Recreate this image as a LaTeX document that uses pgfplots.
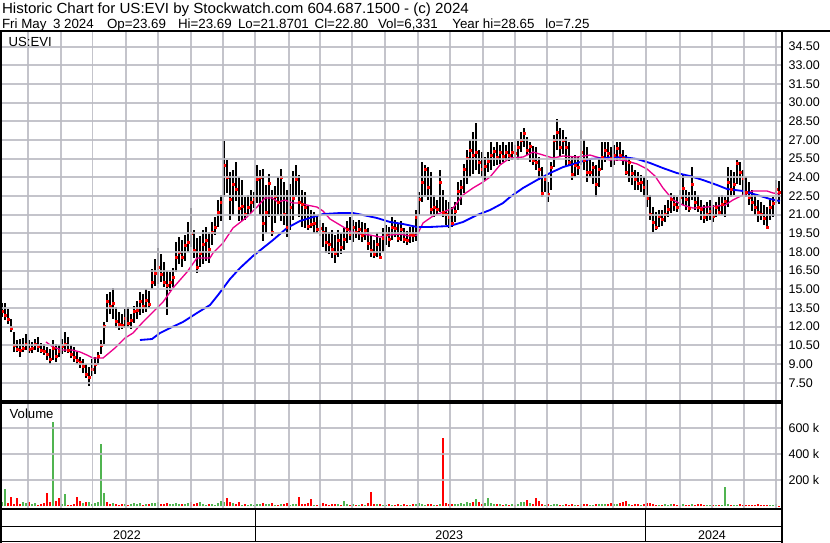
\documentclass[border=0pt]{standalone}
\usepackage{pgfplots}
\pgfplotsset{compat=1.18}
\usepackage{pgfplotstable}
\usepackage{graphicx}
\usepackage{fontspec}
\setmainfont{Liberation Sans}

\definecolor{volgreen}{RGB}{80,180,80}
\definecolor{gridgray}{RGB}{186,186,194}

% one bar every third pixel column: low, high, close, volume (k), up flag
\pgfplotstableread{
l h c v u
12.8 13.9 13.2 30 1
12.5 13.9 12.9 133 1
12.2 13.4 12.6 25 0
11.6 12.6 11.9 72 0
10.0 11.6 10.5 20 0
10.0 10.9 10.2 65 0
9.6 11.0 10.1 18 0
10.0 11.1 10.3 30 1
10.1 11.4 10.6 22 1
9.9 10.9 10.2 35 0
9.9 10.8 10.3 15 1
10.1 11.0 10.6 25 1
10.0 11.2 10.4 12 0
9.9 10.7 10.1 20 0
9.7 10.6 10.0 28 0
9.3 10.4 9.8 102 0
9.0 10.2 9.4 30 0
9.3 10.9 10.3 648 1
9.2 10.6 9.6 40 0
9.6 10.5 10.0 66 0
9.8 11.0 10.4 15 1
10.0 11.6 10.6 95 1
9.9 11.2 10.1 10 0
9.5 10.5 9.8 12 0
9.2 10.4 9.5 20 0
9.0 10.0 9.3 74 0
8.7 9.6 9.1 40 0
8.3 9.4 8.8 25 1
7.9 9.0 8.2 30 0
7.25 8.8 7.9 35 1
8.0 9.4 8.6 20 1
8.2 9.6 9.0 28 1
8.9 10.0 9.6 35 1
9.8 10.9 10.5 479 1
10.6 12.4 12.0 105 1
12.4 14.6 14.0 35 0
13.0 14.8 13.6 20 0
12.6 15.1 13.9 25 1
11.9 13.6 12.4 18 0
11.7 13.2 12.2 12 0
11.8 13.0 12.1 15 0
11.9 13.4 12.7 20 1
12.0 13.6 12.3 10 0
11.8 13.0 12.5 18 1
12.3 13.7 13.2 22 1
12.6 14.1 13.3 15 1
12.9 14.8 14.0 25 1
13.1 14.6 13.6 12 0
13.2 15.0 14.1 20 1
13.5 14.9 13.8 14 0
15.0 16.6 15.6 28 1
15.3 17.4 16.3 22 1
15.4 18.3 16.8 30 1
15.6 17.8 16.2 18 0
15.2 17.2 15.6 20 0
12.9 16.5 15.3 25 0
14.9 16.4 15.6 14 1
15.2 16.7 16.0 18 1
16.4 18.8 17.6 22 1
17.0 19.2 18.0 16 1
16.8 19.0 17.6 20 0
17.3 19.4 18.5 15 1
18.0 20.4 18.8 25 1
18.4 21.5 19.5 35 0
17.5 19.8 18.1 18 0
16.3 19.1 16.8 22 0
16.8 19.3 17.9 30 1
17.0 19.8 18.6 15 1
17.3 20.0 18.9 12 1
17.1 19.6 18.2 20 0
18.6 20.4 19.6 15 1
19.4 20.8 20.0 12 1
20.0 22.2 21.2 25 1
20.5 22.6 22.0 40 1
22.4 26.9 25.0 30 1
22.7 25.4 24.0 63 0
20.6 24.4 22.2 35 0
21.0 24.6 23.4 28 1
22.1 25.2 23.0 20 0
20.5 24.0 21.5 30 0
20.5 23.8 21.7 12 1
20.6 22.4 21.0 15 0
20.9 22.6 21.6 10 1
21.1 23.0 22.0 18 1
21.5 22.8 22.2 8 1
21.9 25.0 23.8 15 1
21.0 24.6 24.0 20 1
18.9 24.7 20.3 25 0
19.5 23.4 21.2 14 1
20.8 24.3 23.5 18 1
19.3 23.0 19.6 22 0
20.3 23.3 22.5 12 1
21.0 24.0 22.0 10 0
20.5 24.7 24.0 15 1
20.2 23.6 21.0 20 0
19.2 23.0 20.0 25 0
19.8 23.5 21.6 12 1
20.6 24.5 22.3 15 1
22.4 25.0 23.8 18 1
20.8 24.2 22.0 74 0
20.0 23.0 21.8 20 0
19.9 22.8 21.6 15 0
19.8 21.8 20.1 22 0
19.9 21.4 20.2 55 0
19.5 21.2 20.3 12 1
19.5 20.9 19.8 10 0
19.3 20.6 19.9 14 1
18.4 20.3 19.6 25 0
17.9 20.0 18.8 18 0
17.8 19.6 18.6 12 0
17.5 19.8 18.2 15 0
17.1 19.4 17.9 20 0
17.6 19.8 18.9 14 1
17.8 19.5 18.4 10 0
18.2 19.9 19.0 40 1
18.7 20.5 19.8 18 1
19.0 20.8 19.4 12 0
18.8 20.6 20.0 15 1
19.1 20.4 19.6 10 0
19.0 20.6 19.8 12 1
18.8 20.4 19.3 14 0
19.0 20.3 19.7 10 1
18.2 19.9 18.7 22 0
17.6 19.3 18.1 112 0
17.5 19.0 17.8 20 0
17.6 19.5 18.6 15 1
17.4 19.1 17.6 18 0
18.0 19.9 19.1 12 1
18.6 20.2 19.4 10 1
18.4 20.0 19.0 14 0
19.0 20.8 20.0 12 1
19.2 20.6 19.9 8 0
18.8 20.3 19.1 14 0
18.9 20.5 19.8 10 1
18.7 19.9 19.0 15 0
18.6 19.7 18.9 12 0
18.7 20.0 19.4 10 1
18.8 20.1 19.3 15 0
18.9 21.4 20.8 20 1
21.0 22.8 22.2 25 1
22.0 25.2 23.6 15 1
22.4 25.0 24.6 12 1
22.2 24.8 23.2 20 0
21.0 24.4 21.4 14 0
20.8 22.6 21.6 10 1
21.0 22.2 21.4 12 0
21.2 24.6 23.6 15 1
20.8 23.0 21.2 528 0
20.2 22.2 21.0 25 0
19.9 22.0 20.8 20 0
20.0 21.6 20.3 15 0
20.4 22.0 21.3 18 1
21.4 23.6 22.9 20 1
21.8 23.8 23.2 25 1
22.7 25.1 24.6 18 1
23.5 26.2 25.5 30 1
24.0 27.0 26.2 22 1
24.3 27.6 25.8 35 0
24.6 28.4 26.0 56 1
24.3 26.2 25.2 30 0
24.0 26.0 24.6 20 0
23.8 25.6 24.9 25 1
24.4 26.0 25.3 66 1
24.6 26.8 25.8 25 1
24.9 26.4 26.1 20 1
25.0 26.8 25.6 15 0
25.1 26.6 26.0 18 1
25.2 26.8 25.7 12 0
25.4 26.6 26.0 15 1
25.3 26.8 25.8 10 0
25.4 26.8 26.0 14 1
25.6 26.6 25.9 12 0
25.4 26.9 26.4 18 1
26.0 27.6 27.0 35 1
26.4 28.0 27.5 30 1
25.8 27.2 26.2 50 0
25.2 26.8 26.5 25 1
25.0 26.5 25.4 20 0
24.6 26.4 25.2 63 0
23.8 25.6 24.6 40 0
22.4 24.8 22.7 15 0
22.8 24.2 23.8 12 1
22.0 23.6 22.6 14 0
23.0 25.2 24.8 10 1
24.8 27.4 27.0 18 1
26.2 28.65 27.6 15 1
25.6 28.0 26.4 12 0
25.9 27.8 27.0 10 1
24.8 27.2 26.4 14 0
24.9 26.8 25.2 12 0
23.8 25.6 24.2 15 0
24.0 25.8 25.0 10 1
24.2 25.6 24.8 12 0
25.0 27.8 26.0 20 1
24.6 27.0 25.4 14 0
23.6 26.4 24.4 18 0
24.0 25.4 24.4 10 1
23.5 25.2 24.8 12 1
22.4 25.0 23.4 20 0
23.2 25.6 24.6 15 1
24.6 26.8 25.6 18 1
25.2 26.8 26.2 20 1
25.4 26.8 25.9 15 0
24.8 26.4 25.5 22 0
25.0 26.6 25.8 18 1
25.3 26.8 26.3 15 1
25.4 26.8 25.8 25 0
25.0 26.2 25.5 30 0
24.2 25.8 24.4 41 0
23.6 25.6 25.2 15 1
23.4 25.0 24.3 12 0
23.0 24.6 23.8 20 0
23.0 24.4 23.5 15 0
22.8 24.2 23.6 12 1
22.4 24.0 23.2 18 0
21.6 23.8 22.3 25 0
20.6 22.6 21.0 22 0
19.6 21.6 20.4 15 0
19.8 21.2 20.0 12 0
20.0 21.4 20.9 10 1
20.1 21.4 20.6 12 0
20.4 21.8 21.0 15 1
20.8 22.2 21.4 10 1
21.1 22.7 22.2 14 1
21.3 22.6 21.8 18 0
21.2 22.4 21.6 12 0
21.6 23.0 22.4 10 1
21.8 24.2 23.1 15 1
21.4 23.0 22.2 12 0
21.2 22.8 21.5 10 0
22.2 24.8 23.4 14 1
21.4 22.9 22.0 12 0
21.2 22.6 21.6 15 0
20.6 22.2 21.4 18 0
20.3 21.8 20.8 10 0
20.5 22.0 21.0 12 1
20.6 22.2 21.3 8 1
20.4 21.8 20.9 10 0
20.8 22.0 21.6 12 1
21.0 22.4 21.2 8 0
21.0 22.6 21.8 10 1
20.8 22.4 22.1 148 1
21.6 24.8 23.6 15 1
22.4 24.6 23.0 12 0
22.6 24.4 23.4 10 1
23.5 25.4 25.1 12 1
23.4 25.2 24.4 14 0
22.6 24.6 23.9 10 0
22.4 24.0 22.8 12 0
21.8 23.6 22.4 8 0
21.3 23.0 22.0 10 0
21.0 22.6 21.6 12 0
20.4 22.2 21.2 14 0
20.6 22.0 21.0 10 0
20.2 21.8 20.7 12 0
19.9 21.6 20.0 8 0
20.6 22.2 21.6 10 1
20.8 22.4 21.9 12 1
21.9 23.8 23.0 14 1
21.87 23.69 22.80 6 0
}\evi

% 50-day average (magenta)
\pgfplotstableread{
x m
46 10.77
53 10.37
62 10.13
72 10.13
80 9.97
87 9.72
93 9.48
103 9.48
115 10.29
125 11.09
133 11.49
143 12.38
153 13.18
163 13.98
173 15.11
187 16.39
197 17.52
210 17.52
213 17.92
223 18.72
233 19.93
247 20.81
257 21.61
265 22.34
272 22.34
278 22.01
285 22.17
293 21.93
300 21.93
307 21.77
317 21.61
323 21.29
330 20.65
340 20.17
350 19.68
360 19.44
370 19.36
380 19.20
390 19.36
400 19.44
410 19.28
417 19.36
423 20.33
433 20.89
443 21.21
453 21.53
463 22.58
473 23.14
483 23.62
490 24.02
500 24.99
510 25.55
523 25.63
533 26.03
543 25.79
553 25.55
563 25.71
577 25.63
590 25.79
600 25.55
610 25.39
620 25.39
627 25.31
637 25.07
647 24.67
655 24.10
663 23.14
673 22.18
683 21.77
693 21.53
707 21.61
717 21.69
725 21.77
733 22.18
743 22.58
753 22.90
767 22.90
773 22.74
780 22.66
}\maFifty

% 200-day average (blue)
\pgfplotstableread{
x m
140 10.93
152 11.01
160 11.49
170 11.89
183 12.38
197 13.10
210 13.74
218 14.54
230 15.83
240 16.71
253 17.68
263 18.32
273 18.96
287 19.93
300 20.49
313 20.81
323 21.05
340 21.13
353 21.13
363 20.97
377 20.73
390 20.41
403 20.25
417 20.01
430 20.01
450 20.09
463 20.41
477 20.97
490 21.37
503 21.93
510 22.41
523 23.14
537 23.78
550 24.34
563 24.82
577 25.15
590 25.47
610 25.59
623 25.63
637 25.47
650 25.15
663 24.74
677 24.34
690 24.10
703 23.78
717 23.38
727 23.06
743 22.90
757 22.58
770 22.26
780 22.09
}\maTwoHundred

\begin{document}
\begin{tikzpicture}
\path[use as bounding box] (0pt,0pt) rectangle (498pt,-325.8pt);

\pgfplotsset{
  chartpanel/.style={
    scale only axis, anchor=south west,
    xmin=2, xmax=781, width=467.4pt,
    axis line style={draw=none},
    major tick length=0pt, minor tick length=0pt,
    xtick=\empty,
    yticklabel pos=right,
    yticklabel style={anchor=west, xshift=1pt, font=\fontsize{7.5}{9}\selectfont},
  },
}

\begin{axis}[chartpanel, at={(1.2pt,-240.3pt)}, height=221.1pt,
  ymin=6.07, ymax=35.673,
  ytick={7.5,9,10.5,12,13.5,15,16.5,18,19.5,21,22.5,24,25.5,27,28.5,30,31.5,33,34.5},
  yticklabels={7.50,9.00,10.50,12.00,13.50,15.00,16.50,18.00,19.50,21.00,22.50,24.00,25.50,27.00,28.50,30.00,31.50,33.00,34.50}]
  \addplot[draw=none, forget plot, error bars/.cd, y dir=both, y explicit, error mark=none,
    error bar style={draw=black, line width=1.1pt}]
    table[x expr=\coordindex*3+2, y=c,
      y error plus expr=\thisrow{h}-\thisrow{c},
      y error minus expr=\thisrow{c}-\thisrow{l}] {\evi};
  \addplot[only marks, mark=square*, mark size=0.6pt, color=red]
    table[x expr=\coordindex*3+2.8, y=c] {\evi};
  \addplot[magenta, line width=0.8pt] table[x=x, y=m] {\maFifty};
  \addplot[blue, line width=1.1pt] table[x=x, y=m] {\maTwoHundred};
\end{axis}

\begin{axis}[chartpanel, at={(1.2pt,-305.1pt)}, height=63pt,
  ymin=-16.9, ymax=790.8,
  ytick={200,400,600}, yticklabels={200 k,400 k,600 k}]
  \addplot[ycomb, volgreen, line width=1.45pt]
    table[x expr=\coordindex*3+2, y expr=\thisrow{v}*\thisrow{u}] {\evi};
  \addplot[ycomb, red, line width=1.45pt]
    table[x expr=\coordindex*3+2, y expr=\thisrow{v}*(1-\thisrow{u})] {\evi};
\end{axis}

% light grid laid over the panels, in picture pixels (1 px = 0.6pt, y downward)
\begin{scope}[x=0.6pt, y=-0.6pt, opacity=0.85]
  \foreach \gx in {28,61,92.5,126,158,191,223,255,289,320,352,385,418,450,483,515,547,581,613,646,680,712,744,776} {
    \fill[gridgray] (\gx-0.9,32) rectangle (\gx+0.9,400.5);
    \fill[gridgray] (\gx-0.9,403.5) rectangle (\gx+0.9,508.5);
  }
  \foreach \gp in {7.5,9,10.5,12,13.5,15,16.5,18,19.5,21,22.5,24,25.5,27,28.5,30,31.5,33,34.5} {
    \fill[gridgray] (2,{382.7-(\gp-7.5)*12.448-0.9}) rectangle (781,{382.7-(\gp-7.5)*12.448+0.9});
  }
  \foreach \gy in {428.3,454.3,480.3} {
    \fill[gridgray] (2,\gy-0.9) rectangle (781,\gy+0.9);
  }
\end{scope}

\begin{scope}[x=0.6pt, y=-0.6pt]
  % frame
  \draw[line width=1.2pt] (0,31) -- (830,31);
  \draw[line width=1.2pt] (1,31) -- (1,543);
  \draw[line width=1.2pt] (781.6,31) -- (781.6,543);
  \draw[line width=0.7pt] (0,401) -- (781,401);
  \draw[line width=0.7pt] (0,403) -- (781,403);
  \draw[line width=1.1pt] (0,509.3) -- (781,509.3);
  \draw[line width=0.9pt] (0,526.7) -- (781,526.7);
  \draw[line width=0.9pt] (0,541.7) -- (781,541.7);
  \draw[line width=0.9pt] (255.3,509) -- (255.3,542);
  \draw[line width=0.9pt] (645.5,509) -- (645.5,542);
  % header
  \node[anchor=base west, inner sep=0pt, font=\fontsize{8.8}{10}\selectfont] at (1.7,13.3)
    {\scalebox{1.03}[1]{Historic Chart for US:EVI by Stockwatch.com 604.687.1500 - (c) 2024}};
  \begin{scope}[every node/.style={anchor=base west, inner sep=0pt, font=\fontsize{8}{9.6}\selectfont}]
    \node at (1.7,28.3) {Fri May};
    \node at (52.7,28.3) {3 2024};
    \node at (106.7,28.3) {Op=23.69};
    \node at (177.7,28.3) {Hi=23.69};
    \node at (237.7,28.3) {Lo=21.8701};
    \node at (314.3,28.3) {Cl=22.80};
    \node at (377.7,28.3) {Vol=6,331};
    \node at (452,28.3) {Year hi=28.65};
    \node at (545,28.3) {lo=7.25};
  \end{scope}
  \node[anchor=base west, inner sep=0pt, font=\fontsize{7.9}{9}\selectfont] at (8.3,46.7) {US:EVI};
  \node[anchor=base west, inner sep=0pt, font=\fontsize{7.9}{9}\selectfont] at (9.3,418.3) {Volume};
  \begin{scope}[every node/.style={anchor=base, inner sep=0pt, font=\fontsize{7.5}{9}\selectfont}]
    \node at (127,539.3) {2022};
    \node at (449.2,539.3) {2023};
    \node at (712,539.3) {2024};
  \end{scope}
\end{scope}
\end{tikzpicture}
\end{document}
